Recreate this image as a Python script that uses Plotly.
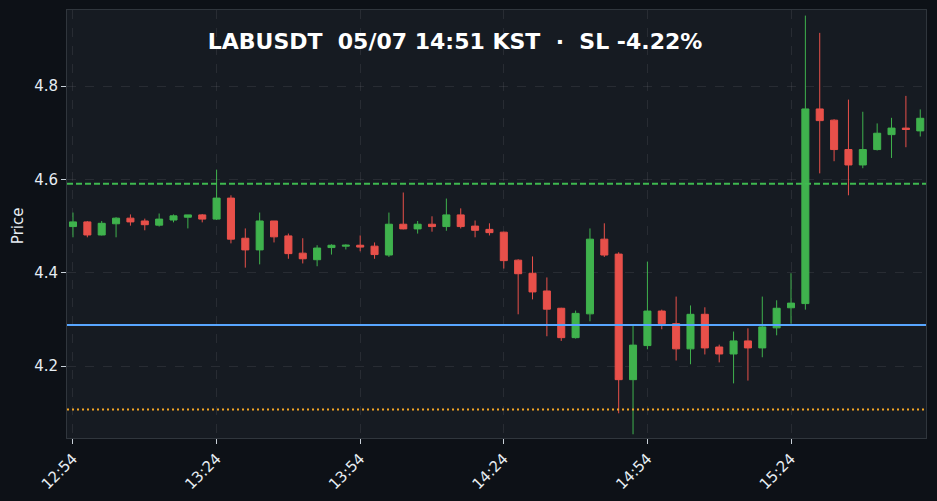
import pandas as pd
import plotly.graph_objects as go

times = pd.date_range("2025-05-07 12:54", periods=60, freq="3min")

opens = [4.499, 4.509, 4.481, 4.505, 4.517, 4.511, 4.502, 4.513, 4.519, 4.524,
         4.515, 4.560, 4.474, 4.449, 4.511, 4.479, 4.442, 4.428, 4.454, 4.457,
         4.459, 4.457, 4.438, 4.504, 4.494, 4.504, 4.499, 4.524, 4.500, 4.493,
         4.487, 4.427, 4.399, 4.361, 4.324, 4.261, 4.312, 4.472, 4.440, 4.171,
         4.244, 4.318, 4.291, 4.237, 4.311, 4.241, 4.226, 4.254, 4.239, 4.282,
         4.325, 4.334, 4.751, 4.727, 4.664, 4.631, 4.664, 4.696, 4.710, 4.704]
highs = [4.529, 4.511, 4.511, 4.519, 4.525, 4.516, 4.527, 4.525, 4.524, 4.526,
         4.621, 4.566, 4.495, 4.529, 4.511, 4.484, 4.474, 4.459, 4.461, 4.461,
         4.480, 4.465, 4.529, 4.572, 4.511, 4.521, 4.559, 4.538, 4.512, 4.506,
         4.488, 4.429, 4.435, 4.390, 4.325, 4.319, 4.495, 4.506, 4.444, 4.286,
         4.424, 4.321, 4.349, 4.330, 4.326, 4.246, 4.274, 4.281, 4.349, 4.341,
         4.399, 4.951, 4.914, 4.729, 4.771, 4.745, 4.720, 4.732, 4.779, 4.750]
lows = [4.476, 4.476, 4.480, 4.476, 4.501, 4.491, 4.499, 4.508, 4.495, 4.508,
        4.513, 4.463, 4.411, 4.418, 4.465, 4.430, 4.420, 4.414, 4.439, 4.450,
        4.446, 4.430, 4.434, 4.493, 4.484, 4.488, 4.490, 4.495, 4.476, 4.480,
        4.409, 4.311, 4.343, 4.264, 4.254, 4.259, 4.296, 4.434, 4.099, 4.054,
        4.236, 4.279, 4.212, 4.204, 4.225, 4.208, 4.163, 4.169, 4.219, 4.266,
        4.291, 4.321, 4.613, 4.639, 4.566, 4.624, 4.662, 4.646, 4.669, 4.692]
closes = [4.509, 4.481, 4.506, 4.517, 4.509, 4.503, 4.515, 4.522, 4.524, 4.515,
          4.560, 4.472, 4.449, 4.511, 4.477, 4.441, 4.430, 4.453, 4.459, 4.459,
          4.455, 4.439, 4.504, 4.494, 4.504, 4.499, 4.524, 4.499, 4.491, 4.486,
          4.426, 4.398, 4.359, 4.322, 4.261, 4.313, 4.472, 4.438, 4.171, 4.245,
          4.318, 4.291, 4.237, 4.311, 4.239, 4.226, 4.254, 4.239, 4.284, 4.324,
          4.335, 4.751, 4.726, 4.664, 4.631, 4.664, 4.699, 4.710, 4.707, 4.731]

entry_price = 4.288
sl_pct = -4.22
sl_price = entry_price * (1 + sl_pct / 100)
tp_price = 4.591

title_text = "LABUSDT  05/07 14:51 KST  ·  SL -4.22%"
y_title = "Price"

UP = "#3fb24d"
DOWN = "#e8504a"

fig = go.Figure()
fig.add_trace(go.Candlestick(
    x=times, open=opens, high=highs, low=lows, close=closes,
    increasing=dict(line=dict(color=UP, width=1), fillcolor=UP),
    decreasing=dict(line=dict(color=DOWN, width=1), fillcolor=DOWN),
    whiskerwidth=0, showlegend=False,
))

fig.add_hline(y=tp_price, line=dict(color="#3fb950", width=2, dash="6px,3px"))
fig.add_hline(y=entry_price, line=dict(color="#58a6ff", width=2))
fig.add_hline(y=sl_price, line=dict(color="#f5a623", width=2, dash="2px,3px"))

axis_common = dict(
    showline=True, mirror=True, linecolor="#30363d", linewidth=1,
    gridcolor="rgba(255,255,255,0.08)", griddash="dash", zeroline=False,
    ticks="outside", ticklen=5, tickcolor="#c9d1d9", automargin=False,
    tickfont=dict(family="DejaVu Sans", size=15, color="#e6edf3"),
)

fig.update_layout(
    width=937, height=501,
    margin=dict(l=67, r=11, t=10, b=63),
    paper_bgcolor="#0d1117", plot_bgcolor="#161b22",
    title=dict(text=title_text, x=455 / 937, xref="container", xanchor="center",
               y=1 - 41 / 501, yref="container", yanchor="middle",
               font=dict(family="DejaVu Sans", size=22, color="#ffffff", weight="bold")),
    xaxis=dict(
        **axis_common,
        type="date", rangeslider=dict(visible=False),
        range=["2025-05-07 12:52:45", "2025-05-07 15:52:12"],
        tick0="2025-05-07 12:54", dtick=30 * 60 * 1000, tickformat="%H:%M",
        tickangle=-45,
    ),
    yaxis=dict(
        **axis_common,
        range=[4.046, 4.963], tickvals=[4.2, 4.4, 4.6, 4.8], ticktext=["4.2", "4.4", "4.6", "4.8"],
    ),
)

fig.add_annotation(
    text=y_title, textangle=-90, showarrow=False,
    xref="paper", yref="paper", x=(18 - 67) / 859, y=0.495,
    xanchor="center", yanchor="middle",
    font=dict(family="DejaVu Sans", size=15, color="#e6edf3"),
)

fig.write_html(
    "out.html",
    config={"displayModeBar": False},
    post_script="document.body.style.margin='0';document.body.style.background='#0d1117';"
                "document.documentElement.style.overflow='hidden';",
)
